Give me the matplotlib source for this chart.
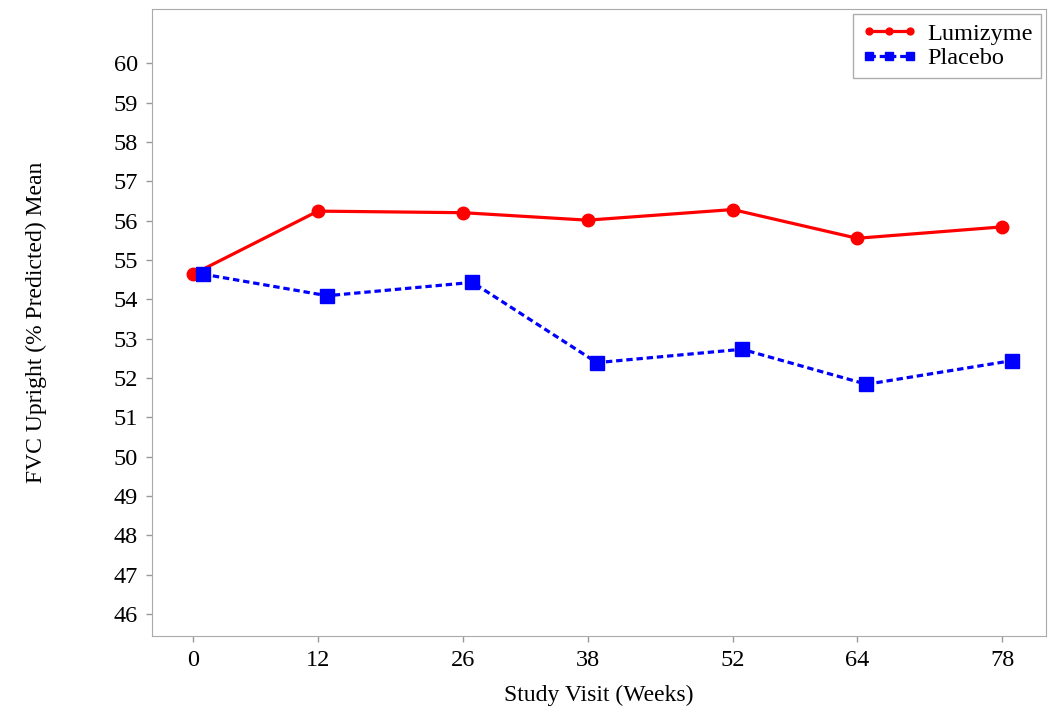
import matplotlib.pyplot as plt
import numpy as np

plt.rcParams['font.family'] = 'Liberation Serif'

weeks = [0, 12, 26, 38, 52, 64, 78]
lumizyme = [54.64, 56.24, 56.20, 56.01, 56.28, 55.55, 55.84]
placebo = [54.64, 54.09, 54.43, 52.39, 52.73, 51.84, 52.44]

fig = plt.figure(figsize=(10.48, 7.10), dpi=100)
ax = fig.add_axes([0.145, 0.104, 0.853, 0.883])

wk = np.array(weeks, dtype=float)
ax.plot(wk, lumizyme, color='#ff0000', lw=2.3, marker='o', ms=9,
        label='Lumizyme', zorder=3)
ax.plot(wk + 0.9, placebo, color='#0000ff', lw=2.3, ls=(0, (2, 1.2)),
        marker='s', ms=10, label='Placebo', zorder=4)

ax.set_xlim(-4, 82.2)
ax.set_ylim(45.44, 61.37)
ax.set_xticks(weeks)
ax.set_yticks(np.arange(46, 61))
ax.tick_params(labelsize=17.5, color='#999999', length=4, width=1, pad=6)
for s in ax.spines.values():
    s.set_color('#aaaaaa')

ax.set_xlabel('Study Visit (Weeks)', fontsize=17, labelpad=10)
ax.set_ylabel('FVC Upright (% Predicted) Mean', fontsize=17, labelpad=48)

leg = ax.legend(loc='upper right', numpoints=3, fontsize=17.5, fancybox=False,
                handlelength=2.3, handletextpad=0.4, borderpad=0.35,
                labelspacing=0.1, markerscale=0.55, borderaxespad=0.2)
leg.get_frame().set_edgecolor('#999999')
leg.get_frame().set_linewidth(1)

fig.savefig('out.png', dpi=100)
